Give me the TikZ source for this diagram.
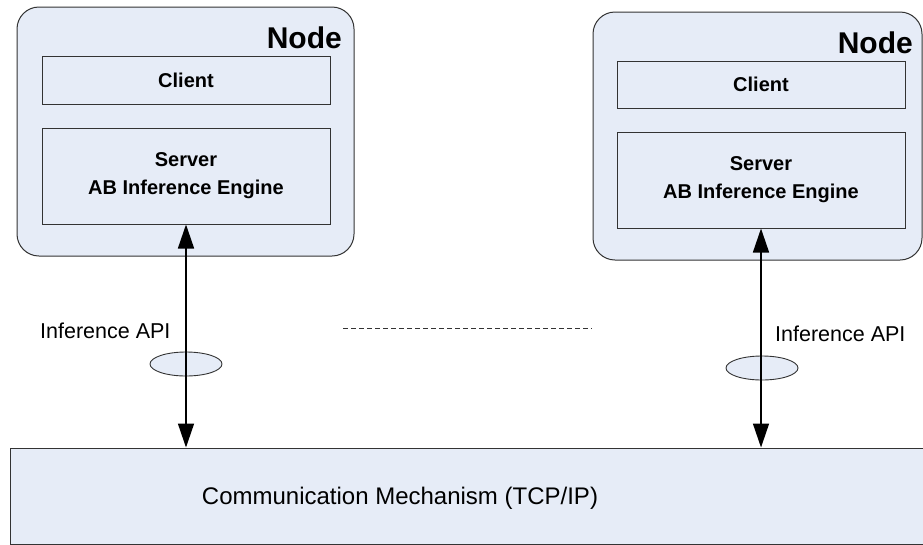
\documentclass[tikz,border=0pt]{standalone}
\usepackage{fontspec}
\setmainfont{Liberation Sans}
\usetikzlibrary{arrows.meta,shapes.geometric}
\definecolor{paleblue}{HTML}{E6ECF7}
\definecolor{edge}{HTML}{333333}
\tikzset{
  nodebox/.style={draw=edge,line width=1pt,fill=paleblue,rounded corners=22pt,inner sep=0pt},
  partbox/.style={draw=edge,line width=1pt,fill=paleblue,inner sep=0pt,align=center,
    font=\fontsize{20}{28}\selectfont\bfseries,minimum width=288pt},
  nodetitle/.style={font=\fontsize{30}{34}\selectfont\bfseries,inner sep=0pt,anchor=base east},
  apilabel/.style={font=\fontsize{21.5}{24}\selectfont,inner sep=0pt,anchor=west},
  apiring/.style={ellipse,draw=edge,line width=0.9pt,fill=paleblue,minimum width=72pt,minimum height=24pt,inner sep=0pt},
  link/.style={line width=1.5pt,{Triangle[length=24pt,width=16pt]}-{Triangle[length=24pt,width=16pt]}},
  commbox/.style={draw=edge,line width=1pt,fill=paleblue,inner sep=0pt}
}
\begin{document}
\begin{tikzpicture}[x=1pt,y=-1pt]
\useasboundingbox (0,0) rectangle (923,544);
\clip (0,0) rectangle (923,544);

% first host
\node[nodebox,minimum width=337pt,minimum height=249pt] (hostA) at (185.5,131.5) {};
\node[nodetitle] (titleA) at (342,48) {Node};
\node[partbox,minimum height=48pt] (clientA) at (186,80) {Client};
\node[partbox,minimum height=96pt] (serverA) at (186,176) {Server\\AB Inference Engine};

% second host
\node[nodebox,minimum width=329pt,minimum height=248pt] (hostB) at (757.5,136) {};
\node[nodetitle] (titleB) at (913,53) {Node};
\node[partbox,minimum height=47pt] (clientB) at (761,84.5) {Client};
\node[partbox,minimum height=96pt] (serverB) at (761,180) {Server\\AB Inference Engine};

% shared transport layer
\node[commbox,minimum width=915pt,minimum height=96pt] (comm) at (467.5,496) {};
\node[font=\fontsize{24}{28}\selectfont,inner sep=0pt] (commtext) at (400,498) {Communication Mechanism (TCP/IP)};

% API interfaces
\node[apiring] (ringA) at (186,364) {};
\node[apiring] (ringB) at (762,368) {};
\node[apilabel] (labelA) at (40,331) {Inference API};
\node[apilabel] (labelB) at (775,334) {Inference API};

\draw[link] (serverA.south) -- (serverA.south |- comm.north);
\draw[link] (serverB.south) -- (serverB.south |- comm.north);

% further hosts elided
\coordinate (gapL) at (343,328);
\coordinate (gapR) at (592,328);
\draw[edge,line width=0.7pt,dash pattern=on 5pt off 3pt] (gapL) -- (gapR);
\end{tikzpicture}
\end{document}
